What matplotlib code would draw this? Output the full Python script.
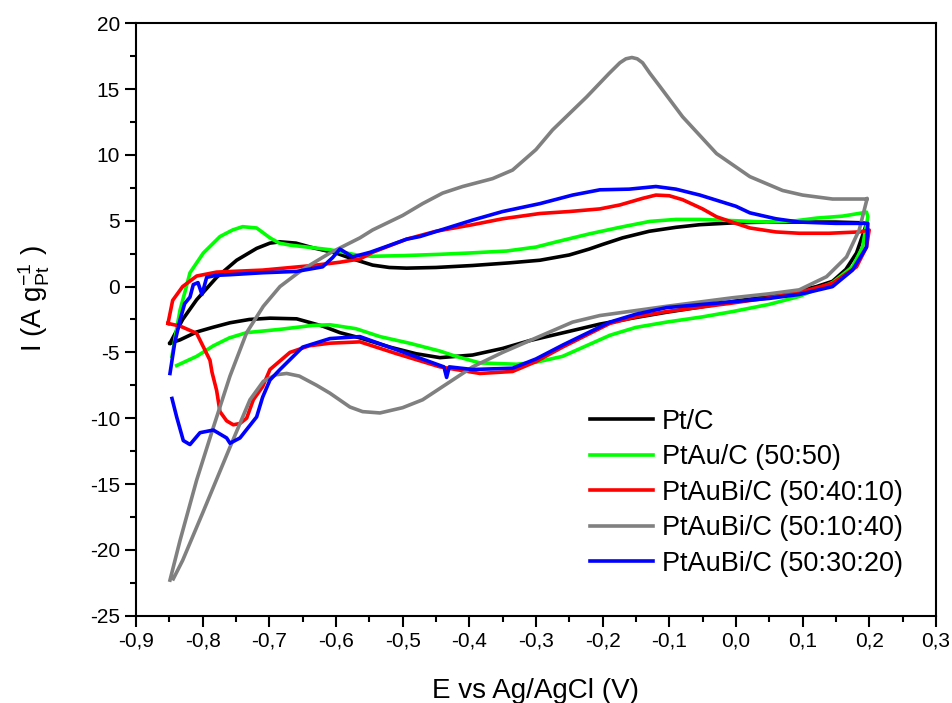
import numpy as np
import matplotlib
matplotlib.use("Agg")
import matplotlib.pyplot as plt
from matplotlib.ticker import MultipleLocator, FuncFormatter

plt.rcParams['font.family'] = ['Liberation Sans', 'DejaVu Sans']
plt.rcParams['mathtext.fontset'] = 'custom'
plt.rcParams['mathtext.rm'] = 'Liberation Sans'
plt.rcParams['mathtext.it'] = 'Liberation Sans'
plt.rcParams['axes.unicode_minus'] = False

# Pt/C
pt_e = [-0.849, -0.83, -0.809, -0.779, -0.749, -0.719, -0.699, -0.684, -0.66, -0.635, -0.6, -0.575,
        -0.545, -0.52, -0.494, -0.45, -0.395, -0.34, -0.294, -0.25, -0.22, -0.2, -0.17, -0.13, -0.09,
        -0.054, 0.0, 0.05, 0.1, 0.15, 0.185, 0.196,
        0.193, 0.181, 0.165, 0.145, 0.121, 0.07, 0.0, -0.054, -0.104, -0.15, -0.204, -0.25, -0.309,
        -0.35, -0.395, -0.444, -0.48, -0.519, -0.564, -0.594, -0.62, -0.659, -0.699, -0.73, -0.759,
        -0.785, -0.809, -0.834, -0.849]
pt_i = [-4.3, -2.5, -1.0, 0.7, 2.0, 2.9, 3.3, 3.4, 3.3, 2.95, 2.55, 2.1,
        1.63, 1.45, 1.4, 1.45, 1.6, 1.8, 2.0, 2.4, 2.85, 3.2, 3.7, 4.2, 4.5,
        4.7, 4.85, 4.9, 4.9, 4.9, 4.85, 4.8,
        4.3, 2.55, 1.3, 0.4, 0.0, -0.6, -1.1, -1.56, -1.95, -2.35, -2.85, -3.4, -4.1,
        -4.7, -5.2, -5.4, -5.1, -4.6, -3.9, -3.5, -3.0, -2.45, -2.4, -2.5, -2.75,
        -3.1, -3.45, -4.05, -4.3]

# PtAu/C (50:50)
ptau_e = [-0.846, -0.84, -0.834, -0.826, -0.819, -0.799, -0.774, -0.755, -0.74, -0.719, -0.699, -0.685,
          -0.669, -0.609, -0.564, -0.545, -0.5, -0.444, -0.4, -0.344, -0.3, -0.269, -0.22, -0.174,
          -0.129, -0.09, -0.054, 0.0, 0.046, 0.09, 0.121, 0.16, 0.196,
          0.198, 0.19, 0.175, 0.145, 0.095, 0.05, -0.005, -0.05, -0.104, -0.15, -0.189, -0.22, -0.26,
          -0.3, -0.329, -0.384, -0.42, -0.444, -0.49, -0.534, -0.57, -0.609, -0.635, -0.684, -0.734,
          -0.76, -0.784, -0.809, -0.839]
ptau_i = [-5.3, -3.5, -1.8, -0.3, 1.05, 2.55, 3.8, 4.3, 4.55, 4.45, 3.7, 3.3,
          3.15, 2.8, 2.35, 2.3, 2.35, 2.45, 2.55, 2.7, 3.0, 3.4, 4.0, 4.5,
          4.95, 5.1, 5.1, 5.0, 4.9, 5.0, 5.2, 5.35, 5.65,
          5.3, 3.0, 1.5, 0.3, -0.75, -1.35, -1.9, -2.3, -2.7, -3.1, -3.7, -4.4, -5.3,
          -5.75, -5.9, -5.8, -5.3, -4.9, -4.3, -3.8, -3.2, -2.9, -2.95, -3.25, -3.5,
          -3.9, -4.5, -5.3, -6.0]

# PtAuBi/C (50:40:10)
bi10_e = [-0.852, -0.845, -0.83, -0.809, -0.779, -0.71, -0.635, -0.594, -0.564, -0.545, -0.494, -0.45,
          -0.395, -0.35, -0.294, -0.25, -0.204, -0.174, -0.14, -0.12, -0.1, -0.08, -0.05, -0.029,
          0.0, 0.021, 0.06, 0.095, 0.14, 0.185, 0.2,
          0.196, 0.181, 0.145, 0.095, 0.05, -0.005, -0.104, -0.15, -0.189, -0.26, -0.3, -0.335,
          -0.384, -0.444, -0.509, -0.564, -0.609, -0.64, -0.669, -0.699, -0.71, -0.724, -0.734,
          -0.744, -0.754, -0.764, -0.774, -0.779, -0.786, -0.789, -0.809, -0.834, -0.852]
bi10_i = [-2.8, -1.05, 0.0, 0.8, 1.1, 1.25, 1.6, 1.85, 2.1, 2.6, 3.6, 4.2,
          4.7, 5.15, 5.55, 5.7, 5.9, 6.2, 6.7, 6.95, 6.9, 6.6, 5.9, 5.3,
          4.8, 4.45, 4.15, 4.05, 4.05, 4.15, 4.3,
          3.0, 1.5, 0.25, -0.45, -0.85, -1.25, -1.9, -2.3, -2.8, -4.6, -5.7, -6.45,
          -6.6, -6.1, -5.1, -4.2, -4.3, -4.5, -5.0, -6.3, -7.6, -8.6, -10.0,
          -10.4, -10.5, -10.2, -9.5, -7.9, -6.5, -5.6, -3.55, -3.0, -2.8]

# PtAuBi/C (50:10:40)
bi40_e = [-0.849, -0.834, -0.809, -0.784, -0.759, -0.734, -0.709, -0.684, -0.65, -0.609, -0.564, -0.545,
          -0.5, -0.47, -0.44, -0.41, -0.365, -0.335, -0.3, -0.275, -0.224, -0.19, -0.174, -0.165, -0.156,
          -0.148, -0.14, -0.129, -0.114, -0.08, -0.029, 0.021, 0.07, 0.1, 0.145, 0.197,
          0.197, 0.185, 0.166, 0.136, 0.095, 0.05, -0.005, -0.104, -0.204, -0.245, -0.309, -0.35,
          -0.395, -0.44, -0.47, -0.5, -0.534, -0.56, -0.579, -0.609, -0.629, -0.655, -0.674, -0.69,
          -0.709, -0.729, -0.759, -0.8, -0.83, -0.844]
bi40_i = [-22.3, -19.3, -14.7, -10.7, -6.8, -3.5, -1.5, 0.0, 1.3, 2.55, 3.7, 4.3,
          5.4, 6.3, 7.1, 7.6, 8.2, 8.85, 10.4, 11.9, 14.4, 16.2, 17.0, 17.3, 17.4,
          17.3, 17.0, 16.2, 15.2, 12.9, 10.1, 8.35, 7.3, 6.95, 6.65, 6.65,
          6.7, 4.3, 2.25, 0.75, -0.25, -0.55, -0.85, -1.5, -2.2, -2.7, -4.1, -5.0,
          -6.1, -7.6, -8.6, -9.2, -9.6, -9.5, -9.15, -8.1, -7.5, -6.8, -6.6, -6.7,
          -7.2, -8.6, -12.2, -17.2, -20.8, -22.2]

# PtAuBi/C (50:30:20)
bi20_e = [-0.849, -0.842, -0.834, -0.827, -0.819, -0.814, -0.807, -0.801, -0.794, -0.78, -0.759, -0.71,
          -0.659, -0.62, -0.605, -0.594, -0.575, -0.549, -0.524, -0.494, -0.474, -0.395, -0.35,
          -0.294, -0.245, -0.204, -0.16, -0.12, -0.09, -0.054, 0.0, 0.021, 0.06, 0.095, 0.15, 0.198,
          0.196, 0.175, 0.145, 0.095, 0.05, -0.005, -0.104, -0.15, -0.189, -0.26, -0.3, -0.335,
          -0.395, -0.43, -0.434, -0.438, -0.509, -0.564, -0.609, -0.65, -0.684, -0.699, -0.71,
          -0.719, -0.744, -0.759, -0.764, -0.784, -0.804, -0.819, -0.829, -0.839, -0.846]
bi20_i = [-6.6, -4.3, -2.55, -1.3, -0.8, 0.15, 0.3, -0.6, 0.7, 0.85, 0.9, 1.05,
          1.15, 1.5, 2.2, 2.85, 2.25, 2.6, 3.05, 3.6, 3.8, 5.05, 5.7,
          6.3, 6.95, 7.35, 7.4, 7.6, 7.4, 6.95, 6.1, 5.6, 5.15, 4.9, 4.8, 4.8,
          3.0, 1.25, 0.0, -0.6, -0.9, -1.15, -1.6, -2.1, -2.7, -4.45, -5.5, -6.2,
          -6.3, -6.1, -6.9, -6.1, -4.8, -3.8, -3.95, -4.6, -6.3, -7.1, -8.4,
          -9.9, -11.5, -11.9, -11.5, -10.9, -11.1, -12.0, -11.7, -9.9, -8.5]

series = [
    (pt_e, pt_i, 'black', 'Pt/C'),
    (ptau_e, ptau_i, '#00ff00', 'PtAu/C (50:50)'),
    (bi10_e, bi10_i, '#ff0000', 'PtAuBi/C (50:40:10)'),
    (bi40_e, bi40_i, '#808080', 'PtAuBi/C (50:10:40)'),
    (bi20_e, bi20_i, '#0000ff', 'PtAuBi/C (50:30:20)'),
]

fig = plt.figure(figsize=(9.53, 7.03), dpi=100)
ax = fig.add_axes([0.1427, 0.1242, 0.8393, 0.8427])

for e, i, color, label in series:
    ax.plot(e, i, color=color, lw=2.6, label=label, solid_joinstyle='round')

ax.set_xlim(-0.9, 0.3)
ax.set_ylim(-25, 20)
ax.xaxis.set_major_locator(MultipleLocator(0.1))
ax.xaxis.set_minor_locator(MultipleLocator(0.05))
ax.yaxis.set_major_locator(MultipleLocator(5))
ax.yaxis.set_minor_locator(MultipleLocator(2.5))
ax.xaxis.set_major_formatter(FuncFormatter(lambda v, p: ('%.1f' % v).replace('.', ',').replace('-0,0', '0,0')))
ax.yaxis.set_major_formatter(FuncFormatter(lambda v, p: '%d' % round(v)))

for s in ax.spines.values():
    s.set_linewidth(1.5)
ax.tick_params(which='both', direction='out', width=1.5, labelsize=15, top=False, right=False)
ax.tick_params(which='major', length=8)
ax.tick_params(which='minor', length=4.5)

ax.set_xlabel('E vs Ag/AgCl (V)', fontsize=20)
ax.set_ylabel('I (A g$_{\\mathregular{Pt}}^{\\mathregular{-1}}$ )', fontsize=20)
ax.xaxis.set_label_coords(0.5, -0.105)
ax.yaxis.set_label_coords(-0.105, 0.535)

ax.legend(loc='upper left', bbox_to_anchor=(0.6044, 0.438), bbox_transform=fig.transFigure,
          frameon=False, fontsize=19.5, borderpad=0, handlelength=2.36, handletextpad=0.3,
          labelspacing=0.35)

fig.savefig('out.png', dpi=100)
